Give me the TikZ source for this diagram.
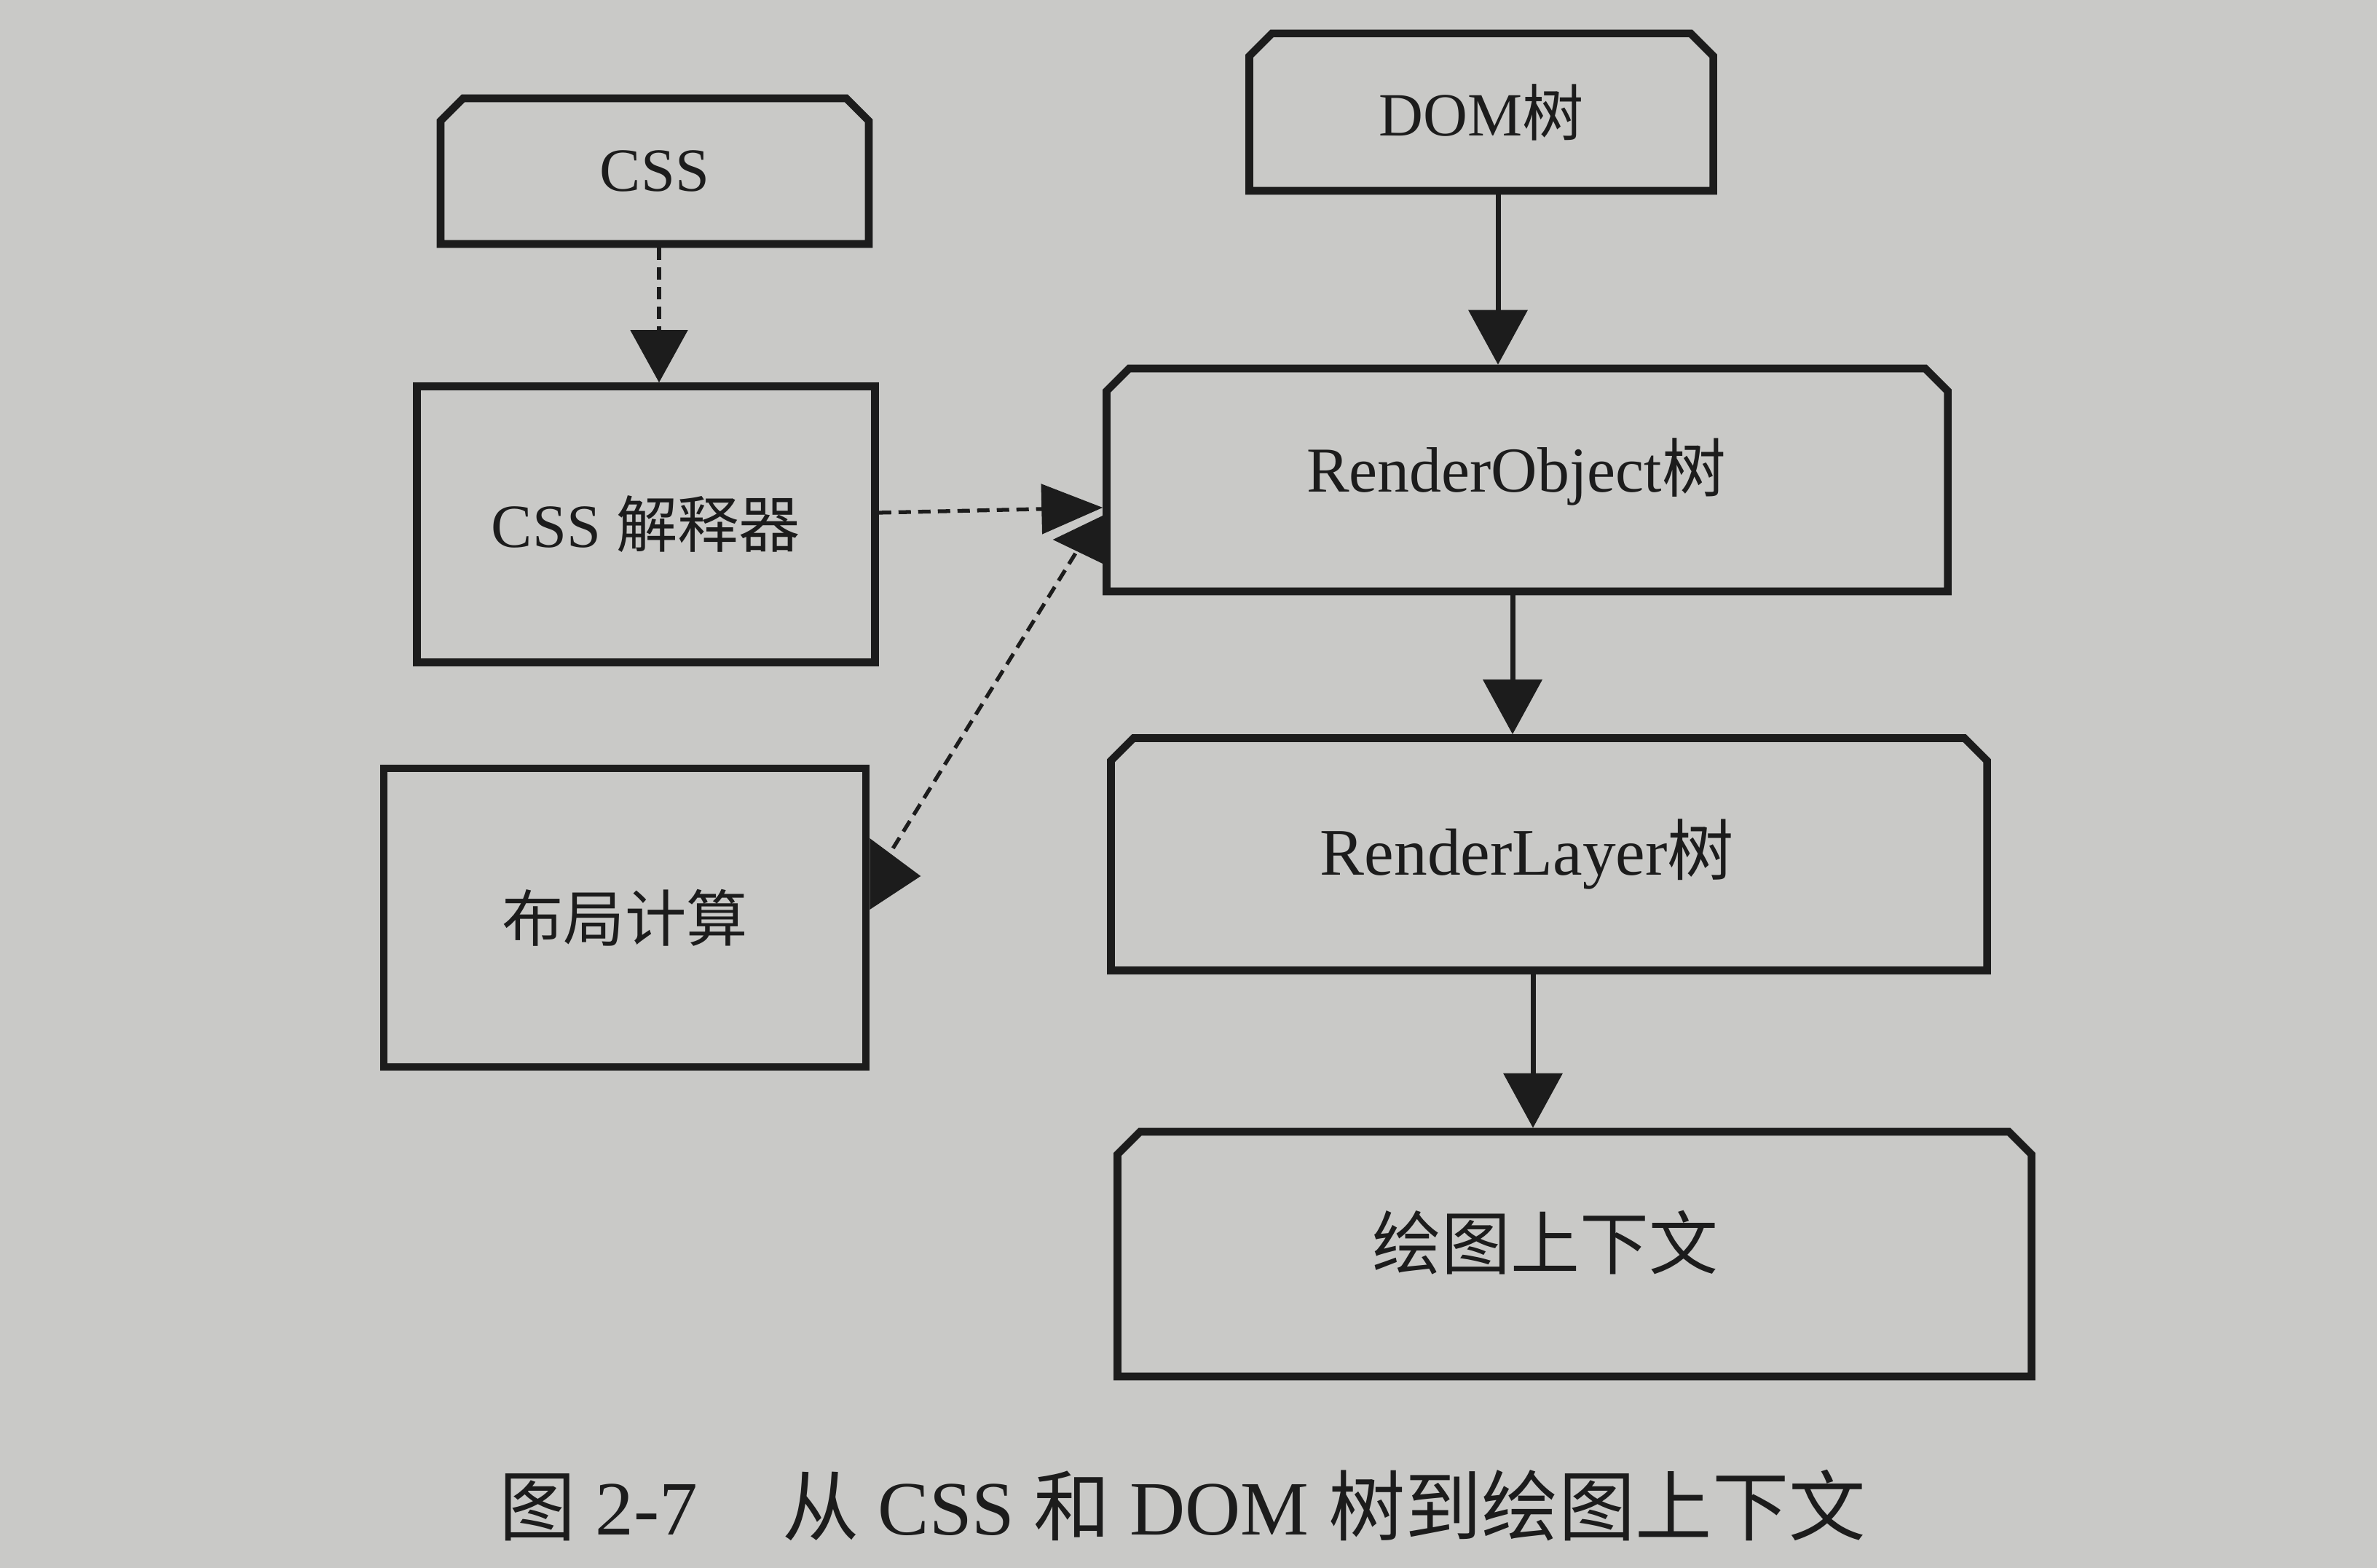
\documentclass[tikz,border=0pt]{standalone}
\usepackage{fontspec}
\setmainfont{Liberation Serif}
\newfontfamily\cjk{Noto Sans CJK SC}
\usetikzlibrary{arrows.meta,shapes.misc}
\definecolor{paper}{RGB}{201,201,199}
\definecolor{ink}{RGB}{28,28,28}
\begin{document}
\begin{tikzpicture}[
  box/.style={draw=ink, line width=3pt, rectangle, inner sep=0pt, text=ink, font=\fontsize{24}{28}\selectfont},
  cbox/.style={box, chamfered rectangle, chamfered rectangle corners={north west,north east},
    chamfered rectangle xsep=0.16cm, chamfered rectangle ysep=0.15cm},
  sline/.style={draw=ink, line width=2pt, -{Triangle[length=0.75cm,width=0.8cm]}},
  dline/.style={draw=ink, line width=1.5pt, dash pattern=on 0.17cm off 0.1cm},
  tri/.style={fill=ink, draw=none}
]
\path[fill=paper] (0,0) rectangle (32.64,21.53);
\useasboundingbox (0,0) rectangle (32.64,21.53);

\node[cbox, minimum width=5.88cm, minimum height=2.00cm] (css) at (8.99,19.18) {CSS};
\node[cbox, minimum width=6.37cm, minimum height=2.16cm] (dom) at (20.34,19.99) {DOM{\cjk 树}};
\node[box, minimum width=6.29cm, minimum height=3.79cm] (cssp) at (8.87,14.33) {CSS {\cjk 解释器}};
\node[box, minimum width=6.62cm, minimum height=4.10cm] (layout) at (8.58,8.93) {\cjk 布局计算};
\node[cbox, minimum width=11.55cm, minimum height=3.06cm, font=\fontsize{25}{29}\selectfont] (ro) at (20.97,14.94) {\raisebox{0.4cm}{RenderObject{\cjk 树}}\kern0.3cm};
\node[cbox, minimum width=12.03cm, minimum height=3.19cm, font=\fontsize{26}{30}\selectfont] (rl) at (21.27,9.80) {\raisebox{0.16cm}{RenderLayer{\cjk 树}}\kern0.6cm};
\node[cbox, minimum width=12.55cm, minimum height=3.36cm, font=\fontsize{27}{31}\selectfont] (ctx) at (21.62,4.31) {\raisebox{0.4cm}{\cjk 绘图上下文}\kern0.8cm};

\node[text=ink, font=\fontsize{30}{34}\selectfont] (cap) at (16.24,0.86) {{\cjk 图} 2-7\hspace{1.1em}{\cjk 从} CSS {\cjk 和} DOM {\cjk 树到绘图上下文}};

% vertical connectors
\coordinate (xa) at (9.05,0);
\coordinate (xb) at (20.57,0);
\coordinate (xc) at (20.77,0);
\coordinate (xd) at (21.05,0);
\draw[dline, -{Triangle[length=0.72cm,width=0.78cm]}] (css.south -| xa) -- (cssp.north -| xa);
\draw[sline] (dom.south -| xb) -- (ro.north -| xb);
\draw[sline] (ro.south -| xc) -- (rl.north -| xc);
\draw[sline] (rl.south -| xd) -- (ctx.north -| xd);

% CSS parser -> RenderObject
\draw[dline, -{Triangle[length=0.84cm,width=0.68cm]}] ([yshift=0.16cm]cssp.east) -- ([yshift=-0.38cm]ro.west);

% RenderObject <-> layout
\coordinate (d1) at ([xshift=-0.375cm,yshift=-1.01cm]ro.west);
\coordinate (d2) at ([xshift=0.25cm,yshift=0.84cm]layout.east);
\draw[dline] (d1) -- (d2);
\fill[tri] ([yshift=-0.49cm]ro.west) -- ([yshift=-1.15cm]ro.west) -- ([xshift=-0.685cm,yshift=-0.82cm]ro.west) -- cycle;
\fill[tri] ([yshift=1.09cm]layout.east) -- ([yshift=0.11cm]layout.east) -- ([xshift=0.70cm,yshift=0.57cm]layout.east) -- cycle;
\end{tikzpicture}
\end{document}
